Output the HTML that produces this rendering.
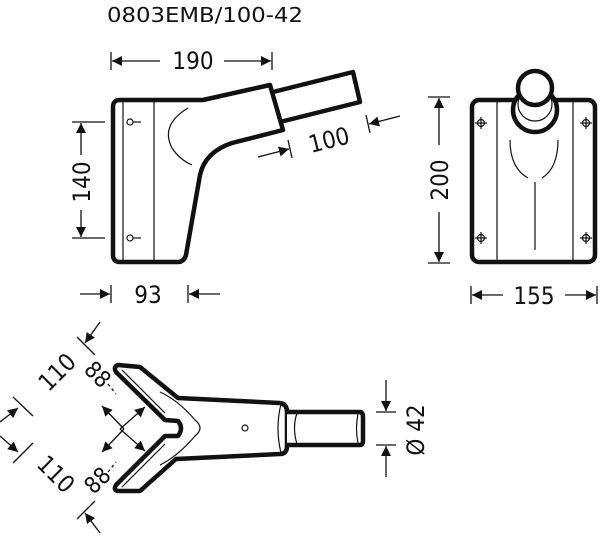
<!DOCTYPE html>
<html><head><meta charset="utf-8"><style>
html,body{margin:0;padding:0;background:#fff;}
svg{display:block;}
text{font-family:"DejaVu Sans Condensed","Liberation Sans",sans-serif;fill:#111;}
</style></head><body>
<svg width="600" height="538" viewBox="0 0 600 538" xmlns="http://www.w3.org/2000/svg">
<defs>
<marker id="a" viewBox="0 0 10 10" refX="10" refY="5" markerWidth="16" markerHeight="10" markerUnits="userSpaceOnUse" orient="auto"><path d="M0,0 L10,5 L0,10 z" fill="#111"/></marker>
</defs>
<text x="107" y="22" font-size="20" textLength="196" lengthAdjust="spacingAndGlyphs">0803EMB/100-42</text>

<!-- side view -->
<g fill="none" stroke="#111" stroke-linejoin="round">
<path d="M120,100 L203,100 L270,85 L283,130 L232,143 Q205,152 200,175 L186,255 Q184,262 178,262 L120,262 Q113,262 113,255 L113,107 Q113,100 120,100 Z" stroke-width="4.5" fill="#fff"/>
<path d="M273,92 L353,72 L360,102 L280,122" stroke-width="4.5"/>
<line x1="123" y1="102" x2="123" y2="260" stroke-width="1.2"/>
<line x1="154" y1="102" x2="154" y2="260" stroke-width="1.2"/>
<circle cx="130" cy="122" r="3" stroke-width="1.2"/><line x1="133" y1="122" x2="141" y2="122" stroke-width="1.2"/>
<circle cx="130" cy="238" r="3" stroke-width="1.2"/><line x1="133" y1="238" x2="141" y2="238" stroke-width="1.2"/>
<path d="M188,108 Q160,125 172,148 Q180,160 192,165" stroke-width="1.2"/>
</g>
<g stroke="#111" stroke-width="1.3" fill="none">
<line x1="111" y1="52" x2="111" y2="70"/><line x1="272" y1="52" x2="272" y2="70"/>
<line x1="160" y1="61" x2="112" y2="61" marker-end="url(#a)"/>
<line x1="224" y1="61" x2="271" y2="61" marker-end="url(#a)"/>
<line x1="72" y1="122" x2="105" y2="122"/><line x1="72" y1="238" x2="105" y2="238"/>
<line x1="81" y1="155" x2="81" y2="123" marker-end="url(#a)"/>
<line x1="81" y1="210" x2="81" y2="237" marker-end="url(#a)"/>
<line x1="111" y1="285" x2="111" y2="303"/><line x1="188" y1="285" x2="188" y2="303"/>
<line x1="80" y1="294" x2="110" y2="294" marker-end="url(#a)"/>
<line x1="220" y1="294" x2="189" y2="294" marker-end="url(#a)"/>
<line x1="288" y1="140" x2="292" y2="158"/><line x1="366" y1="115" x2="370" y2="133"/>
<line x1="258" y1="157" x2="289" y2="149" marker-end="url(#a)"/>
<line x1="400" y1="116" x2="369" y2="124" marker-end="url(#a)"/>
</g>
<text x="193" y="69" font-size="24" text-anchor="middle">190</text>
<text transform="translate(90,182) rotate(-90)" font-size="24" text-anchor="middle">140</text>
<text x="148" y="303" font-size="24" text-anchor="middle">93</text>
<text transform="translate(331,148) rotate(-14)" font-size="24" text-anchor="middle">100</text>

<!-- front view -->
<g fill="none" stroke="#111" stroke-linejoin="round">
<rect x="472" y="100" width="123" height="162" rx="7" stroke-width="4.5" fill="#fff"/>
<line x1="497" y1="102" x2="497" y2="260" stroke-width="1.2"/>
<line x1="573" y1="102" x2="573" y2="260" stroke-width="1.2"/>
<circle cx="535" cy="110" r="22" stroke-width="4.5" fill="#fff"/>
<circle cx="535" cy="104" r="17" stroke-width="1.2"/>
<circle cx="535" cy="88" r="17" stroke-width="4.5" fill="#fff"/>
<path d="M510,140 Q510,168 528,178 M558,140 Q558,168 542,178" stroke-width="1.2"/>
<line x1="535" y1="182" x2="535" y2="250" stroke-width="1.2"/>
<g stroke-width="1.2">
<circle cx="481" cy="123" r="3.5"/><line x1="475" y1="123" x2="487" y2="123"/><line x1="481" y1="117" x2="481" y2="129"/>
<circle cx="586" cy="123" r="3.5"/><line x1="580" y1="123" x2="592" y2="123"/><line x1="586" y1="117" x2="586" y2="129"/>
<circle cx="481" cy="238" r="3.5"/><line x1="475" y1="238" x2="487" y2="238"/><line x1="481" y1="232" x2="481" y2="244"/>
<circle cx="586" cy="238" r="3.5"/><line x1="580" y1="238" x2="592" y2="238"/><line x1="586" y1="232" x2="586" y2="244"/>
</g>
</g>
<g stroke="#111" stroke-width="1.3" fill="none">
<line x1="428" y1="97" x2="450" y2="97"/><line x1="428" y1="263" x2="450" y2="263"/>
<line x1="439" y1="145" x2="439" y2="98" marker-end="url(#a)"/>
<line x1="439" y1="212" x2="439" y2="262" marker-end="url(#a)"/>
<line x1="471" y1="286" x2="471" y2="304"/><line x1="597" y1="286" x2="597" y2="304"/>
<line x1="503" y1="295" x2="472" y2="295" marker-end="url(#a)"/>
<line x1="565" y1="295" x2="596" y2="295" marker-end="url(#a)"/>
</g>
<text transform="translate(448,180) rotate(-90)" font-size="24" text-anchor="middle">200</text>
<text x="534" y="304" font-size="24" text-anchor="middle">155</text>

<!-- bottom view -->
<g fill="none" stroke="#111" stroke-linejoin="round">
<path d="M280,403 L178,398 L140,367 L118,365 Q113,367 116,372 L165,420 L178,421 Q184,428 178,436 L165,436 L116,485 Q113,490 118,491 L140,491 L176,459 L280,454" stroke-width="4.5" fill="#fff"/>
<path d="M280,403 Q287,404 287,412 L287,446 Q287,454 280,454" stroke-width="4.5" fill="#fff"/>
<path d="M287,412 L360,412 Q363,412 363,418 L363,440 Q363,445 360,445 L287,445" stroke-width="4.5" fill="#fff"/>
<path d="M281,404 Q275,428 281,453" stroke-width="1.2"/>
<path d="M297,413 Q292,428 297,444" stroke-width="1.2"/>
<path d="M358,414 Q355,428 358,443" stroke-width="1.2"/>
<path d="M160,392 Q178,400 195,420 Q205,428 195,436 Q178,456 160,465" stroke-width="1.2"/>
<path d="M122,370 L165,413 M122,487 L165,444" stroke-width="1.2"/>
<circle cx="245" cy="428" r="3" stroke-width="1.2"/>
</g>
<g stroke="#111" stroke-width="1.3" fill="none">
<line x1="77" y1="337" x2="95" y2="355"/><line x1="77" y1="519" x2="95" y2="501"/>
<line x1="13" y1="397" x2="33" y2="416"/><line x1="13" y1="463" x2="33" y2="443"/>
<line x1="100" y1="322" x2="85" y2="343" marker-end="url(#a)"/>
<line x1="100" y1="533" x2="85" y2="513" marker-end="url(#a)"/>
<line x1="0" y1="422" x2="18" y2="408" marker-end="url(#a)"/>
<line x1="0" y1="436" x2="18" y2="452" marker-end="url(#a)"/>
<line x1="124" y1="429" x2="102" y2="406" marker-end="url(#a)"/>
<line x1="120" y1="429" x2="145" y2="451" marker-end="url(#a)"/>
<line x1="120" y1="429" x2="145" y2="407" marker-end="url(#a)"/>
<line x1="124" y1="429" x2="102" y2="452" marker-end="url(#a)"/>
<line x1="376" y1="412" x2="396" y2="412"/><line x1="376" y1="445" x2="396" y2="445"/>
<line x1="386" y1="380" x2="386" y2="411" marker-end="url(#a)"/>
<line x1="386" y1="477" x2="386" y2="446" marker-end="url(#a)"/>
<line x1="108" y1="384" x2="116" y2="394" stroke-dasharray="3,3"/>
<line x1="108" y1="472" x2="116" y2="462" stroke-dasharray="3,3"/>
</g>
<text transform="translate(63,378) rotate(-45)" font-size="24" text-anchor="middle">110</text>
<text transform="translate(50,480) rotate(45)" font-size="24" text-anchor="middle">110</text>
<text transform="translate(92,380) rotate(45)" font-size="23" text-anchor="middle">88</text>
<text transform="translate(103,486) rotate(-45)" font-size="23" text-anchor="middle">88</text>
<text transform="translate(424,430) rotate(-90)" font-size="24" text-anchor="middle">Ø 42</text>
</svg>
</body></html>
